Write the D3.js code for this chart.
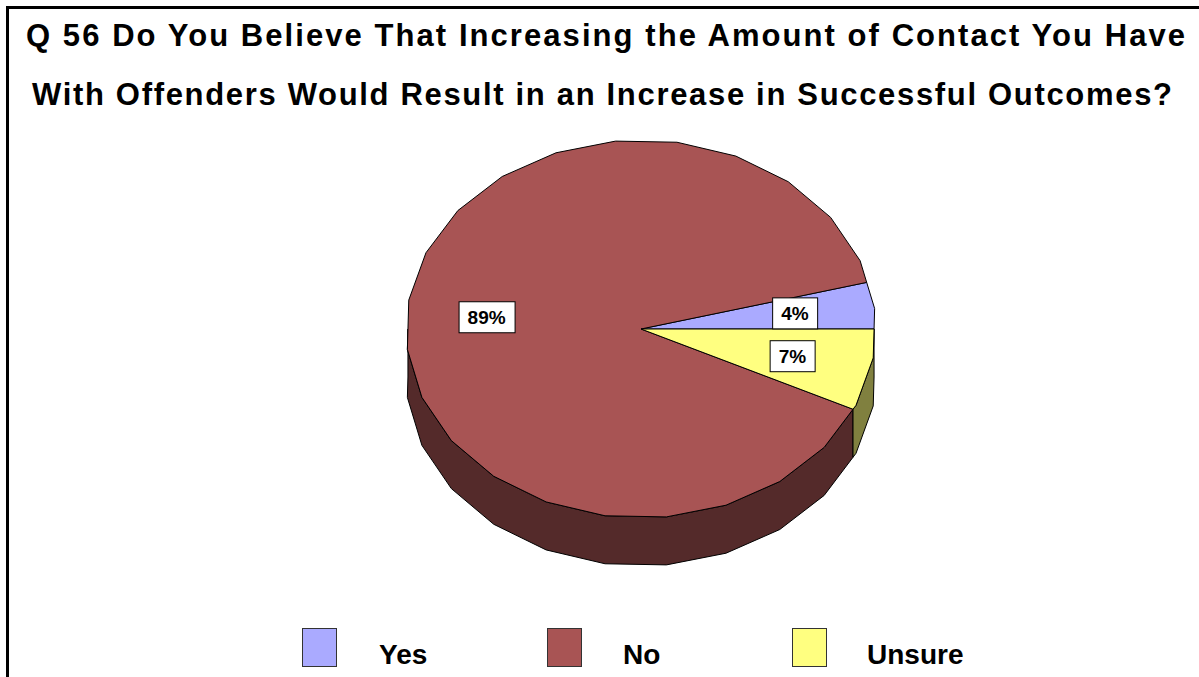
<!DOCTYPE html>
<html>
<head>
<meta charset="utf-8">
<script src="https://cdn.jsdelivr.net/npm/d3@7"></script>
<style>
  body { margin: 0; background: #fff; }
  svg { display: block; font-family: "Liberation Sans", Arial, sans-serif; }
</style>
</head>
<body>
<div id="chart"></div>
<script>
var categories = ['Yes', 'No', 'Unsure'];
var values = [4, 89, 7];
var labels = ['4%', '89%', '7%'];
var topColors = ['#AAAAFF', '#A85454', '#FFFF80'];
var sideColors = ['#55557F', '#542A2A', '#80803F'];
var titleLines = [
    'Q 56 Do You Believe That Increasing the Amount of Contact You Have',
    'With Offenders Would Result in an Increase in Successful Outcomes?'
];

var W = 1199, H = 677;
var svg = d3.select('#chart').append('svg')
    .attr('width', W)
    .attr('height', H);

// frame: top and left rules only
svg.append('line').attr('x1', 7).attr('x2', W).attr('y1', 7.5).attr('y2', 7.5)
    .attr('stroke', '#000').attr('stroke-width', 3);
svg.append('line').attr('x1', 7.5).attr('x2', 7.5).attr('y1', 6).attr('y2', H)
    .attr('stroke', '#000').attr('stroke-width', 3);

var titleSpans = [[26, 1185, 46], [32, 1172, 105]];
svg.selectAll('text.title')
    .data(titleLines)
    .enter()
    .append('text')
    .attr('class', 'title')
    .attr('x', function(d, i){ return titleSpans[i][0]; })
    .attr('y', function(d, i){ return titleSpans[i][2]; })
    .attr('textLength', function(d, i){ return titleSpans[i][1] - titleSpans[i][0]; })
    .attr('lengthAdjust', 'spacing')
    .style('font-size', '31px')
    .style('font-weight', 'bold')
    .text(function(d){ return d; });

// pie geometry
var cx = 641, cy = 329, rx = 235, ry = 189, depth = 48;
var segDeg = 15, segOff = 8.8;
var rad = Math.PI / 180;

var pie = d3.pie().sort(null)
    .startAngle(Math.PI / 2)
    .endAngle(Math.PI / 2 - 2 * Math.PI);
var arcs = pie(values);

// point on the faceted rim, angle t in degrees clockwise from 12 o'clock
function rim(t, dy) {
    var k = Math.floor((t - segOff) / segDeg);
    var m = segOff + (k + 0.5) * segDeg;
    var r = Math.cos(segDeg / 2 * rad) / Math.cos((t - m) * rad);
    return [cx + rx * r * Math.sin(t * rad), cy - ry * r * Math.cos(t * rad) + (dy || 0)];
}

function rimPoints(lo, hi, dy) {
    var pts = [rim(lo, dy)];
    var k = Math.floor((lo - segOff) / segDeg) + 1;
    for (var t = segOff + k * segDeg; t < hi - 1e-6; t += segDeg) {
        pts.push(rim(t, dy));
    }
    pts.push(rim(hi, dy));
    return pts;
}

var line = d3.line();

// side walls on the front half
var walls = [];
arcs.forEach(function(a, i){
    var lo = Math.min(a.startAngle, a.endAngle) / rad;
    var hi = Math.max(a.startAngle, a.endAngle) / rad;
    for (var s = -360; s <= 360; s += 360) {
        var l = Math.max(lo + s, 90), h = Math.min(hi + s, 270);
        if (h > l) walls.push({i: i, lo: l, hi: h});
    }
});

svg.selectAll('path.wall')
    .data(walls)
    .enter()
    .append('path')
    .attr('class', 'wall')
    .attr('d', function(w){
        var top = rimPoints(w.lo, w.hi, 0);
        var bot = rimPoints(w.lo, w.hi, depth).reverse();
        return line(top.concat(bot)) + 'Z';
    })
    .attr('fill', function(w){ return sideColors[w.i]; })
    .attr('stroke', '#000')
    .attr('stroke-width', 1)
    .attr('stroke-linejoin', 'round');

svg.selectAll('path.slice')
    .data(arcs)
    .enter()
    .append('path')
    .attr('class', 'slice')
    .attr('d', function(a){
        var lo = Math.min(a.startAngle, a.endAngle) / rad;
        var hi = Math.max(a.startAngle, a.endAngle) / rad;
        return line([[cx, cy]].concat(rimPoints(lo, hi, 0))) + 'Z';
    })
    .attr('fill', function(a, i){ return topColors[i]; })
    .attr('stroke', '#000')
    .attr('stroke-width', 1)
    .attr('stroke-linejoin', 'round');

// data labels
var lab = svg.selectAll('g.lab')
    .data(arcs)
    .enter()
    .append('g')
    .attr('class', 'lab')
    .attr('transform', function(a){
        var mid = (a.startAngle + a.endAngle) / 2;
        var f = 0.66;
        return 'translate(' + (cx + rx * f * Math.sin(mid)) + ',' + (cy - ry * f * Math.cos(mid)) + ')';
    });

lab.append('rect');
lab.append('text')
    .attr('text-anchor', 'middle')
    .attr('y', 7)
    .style('font-size', '19px')
    .style('font-weight', 'bold')
    .text(function(a, i){ return labels[i]; });
lab.each(function(){
    var g = d3.select(this);
    var w = g.select('text').node().getComputedTextLength() + 18;
    g.select('rect')
        .attr('x', -w / 2 + 0.5).attr('y', -15.5)
        .attr('width', Math.round(w)).attr('height', 31)
        .attr('fill', '#fff').attr('stroke', '#000').attr('stroke-width', 1);
});

// legend
var legX = d3.scalePoint().domain(categories).range([302, 792]);
var leg = svg.selectAll('g.leg')
    .data(categories)
    .enter()
    .append('g')
    .attr('class', 'leg')
    .attr('transform', function(d){ return 'translate(' + legX(d) + ',628)'; });
leg.append('rect')
    .attr('x', 0.5).attr('y', 0.5)
    .attr('width', 34).attr('height', 38)
    .attr('fill', function(d, i){ return topColors[i]; })
    .attr('stroke', '#333').attr('stroke-width', 1);
leg.append('text')
    .attr('x', function(d){ return d === 'Yes' ? 77 : (d === 'No' ? 76 : 75); })
    .attr('y', 36)
    .style('font-size', '28px')
    .style('font-weight', 'bold')
    .text(function(d){ return d; });
</script>
</body>
</html>
